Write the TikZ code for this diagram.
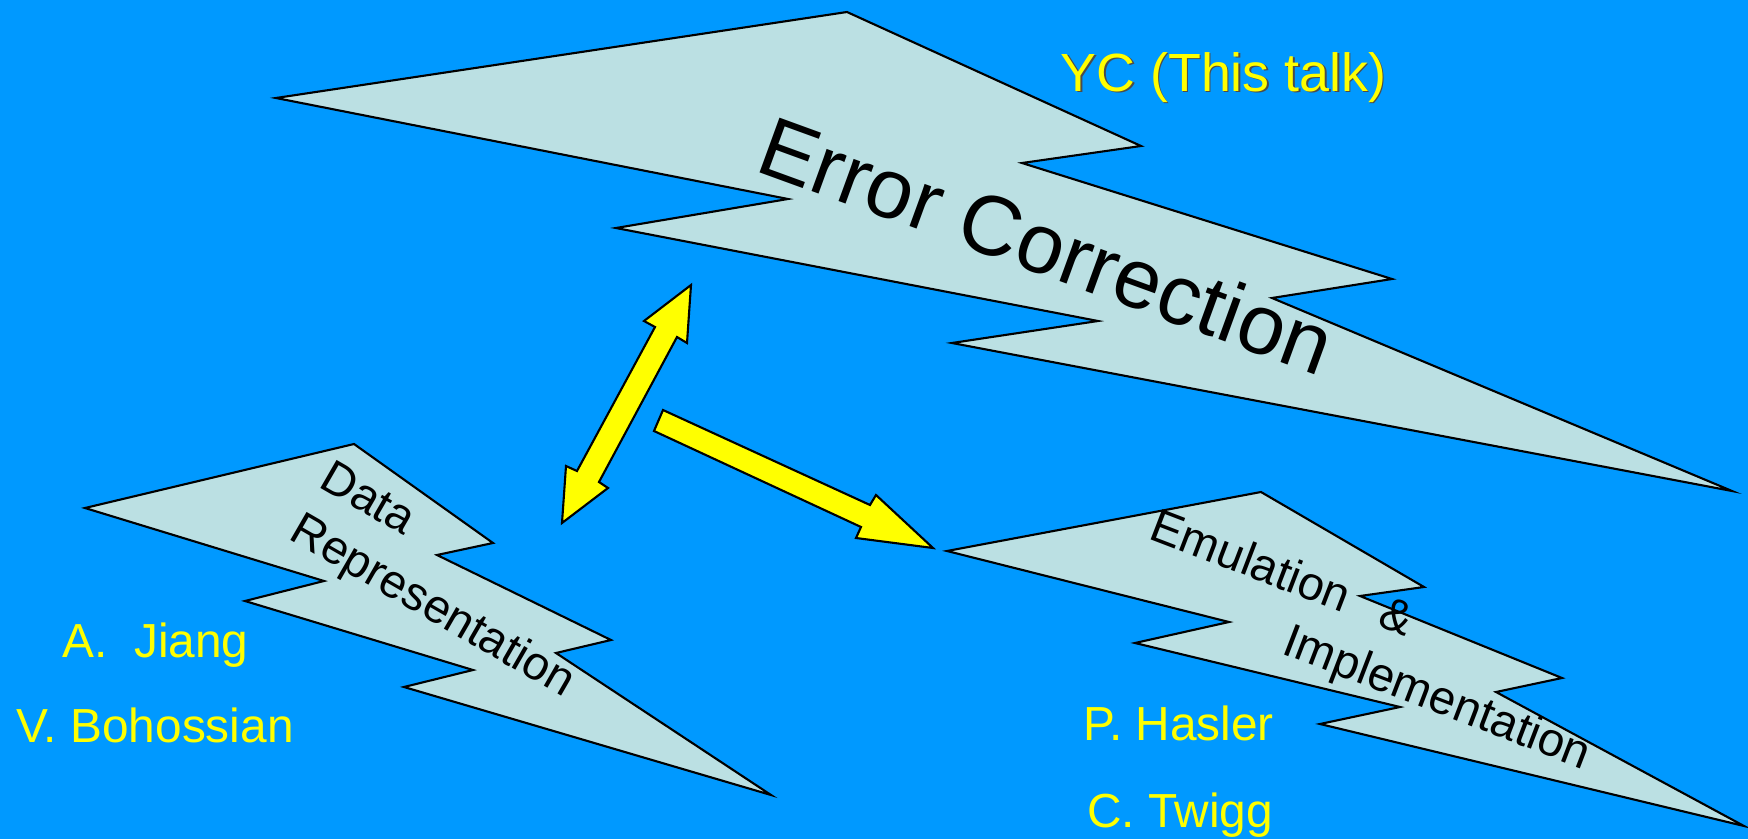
\documentclass[tikz,border=0pt]{standalone}
\usepackage{fontspec}
\setmainfont{Liberation Sans}
\usetikzlibrary{positioning}
\definecolor{slideblue}{HTML}{0099FF}
\definecolor{boltfill}{HTML}{BBE0E3}
\definecolor{hiyellow}{HTML}{FFFF00}

\begin{document}
\begin{tikzpicture}[
  bolt/.style={draw=black,line width=0.6pt,fill=boltfill},
  blockarrow/.style={draw=black,line width=0.6pt,fill=hiyellow},
  boltlabel/.style={inner sep=0pt,anchor=base west,text=black},
  person/.style={inner sep=0pt,anchor=base,text=hiyellow,font=\fontsize{13.6}{16}\selectfont}]
  % slide background
  \fill[slideblue] (0,0) rectangle (17.48,8.39);
  \useasboundingbox (0,0) rectangle (17.48,8.39);

  % the three bolts
  \draw[bolt] (2.76,7.41) -- (8.47,8.27) -- (11.41,6.93) -- (10.22,6.76)
    -- (13.92,5.60) -- (12.72,5.41) -- (17.32,3.48) -- (9.52,4.96)
    -- (10.98,5.18) -- (6.16,6.11) -- (7.88,6.40) -- cycle;
  \draw[bolt] (0.85,3.31) -- (3.54,3.95) -- (4.93,2.96) -- (4.37,2.84)
    -- (6.11,1.99) -- (5.56,1.86) -- (7.71,0.44) -- (4.04,1.52)
    -- (4.73,1.69) -- (2.45,2.38) -- (3.24,2.58) -- cycle;
  \draw[bolt] (9.47,2.88) -- (12.61,3.47) -- (14.24,2.52) -- (13.60,2.43)
    -- (15.62,1.61) -- (14.96,1.47) -- (17.44,0.13) -- (13.20,1.15)
    -- (14.00,1.32) -- (11.35,1.96) -- (12.29,2.17) -- cycle;

  % bolt texts
  \node[boltlabel,rotate=-20,font=\fontsize{24.1}{29}\selectfont] (errcorr) at (7.53,6.69) {Error Correction};
  \node[boltlabel,rotate=-30,font=\fontsize{13.4}{16}\selectfont] (data) at (3.17,3.53) {Data};
  \node[boltlabel,rotate=-30,font=\fontsize{13.4}{16}\selectfont] (repr) at (2.87,3.01) {Representation};
  \node[boltlabel,rotate=-21,font=\fontsize{13.4}{16}\selectfont] (emul) at (11.47,3.01) {Emulation\hspace{0.75em}\&};
  \node[boltlabel,rotate=-21,font=\fontsize{13.5}{16}\selectfont] (impl) at (12.80,1.86) {Implementation};

  % yellow arrows
  \draw[blockarrow] (6.91,5.54) -- (6.87,4.96) -- (6.77,5.02) -- (5.99,3.57)
    -- (6.08,3.51) -- (5.62,3.16) -- (5.66,3.73) -- (5.77,3.68)
    -- (6.55,5.12) -- (6.44,5.18) -- cycle;
  \draw[blockarrow] (6.63,4.29) -- (8.70,3.34) -- (8.76,3.44) -- (9.33,2.91)
    -- (8.56,3.01) -- (8.61,3.12) -- (6.54,4.08) -- cycle;

  % names
  \node[person,text=black!70,font=\fontsize{15.3}{18}\selectfont] (ycshadow) at (12.25,7.465) {YC (This talk)};
  \node[person,font=\fontsize{15.3}{18}\selectfont] (yc) at (12.235,7.48) {YC (This talk)};
  \node[person] (jiang) at (1.555,1.82) {A.\ \ Jiang};
  \node[person] (bohossian) at (1.55,0.97) {V. Bohossian};
  \node[person] (hasler) at (11.785,0.99) {P. Hasler};
  \node[person] (twigg) at (11.80,0.12) {C. Twigg};
\end{tikzpicture}
\end{document}
